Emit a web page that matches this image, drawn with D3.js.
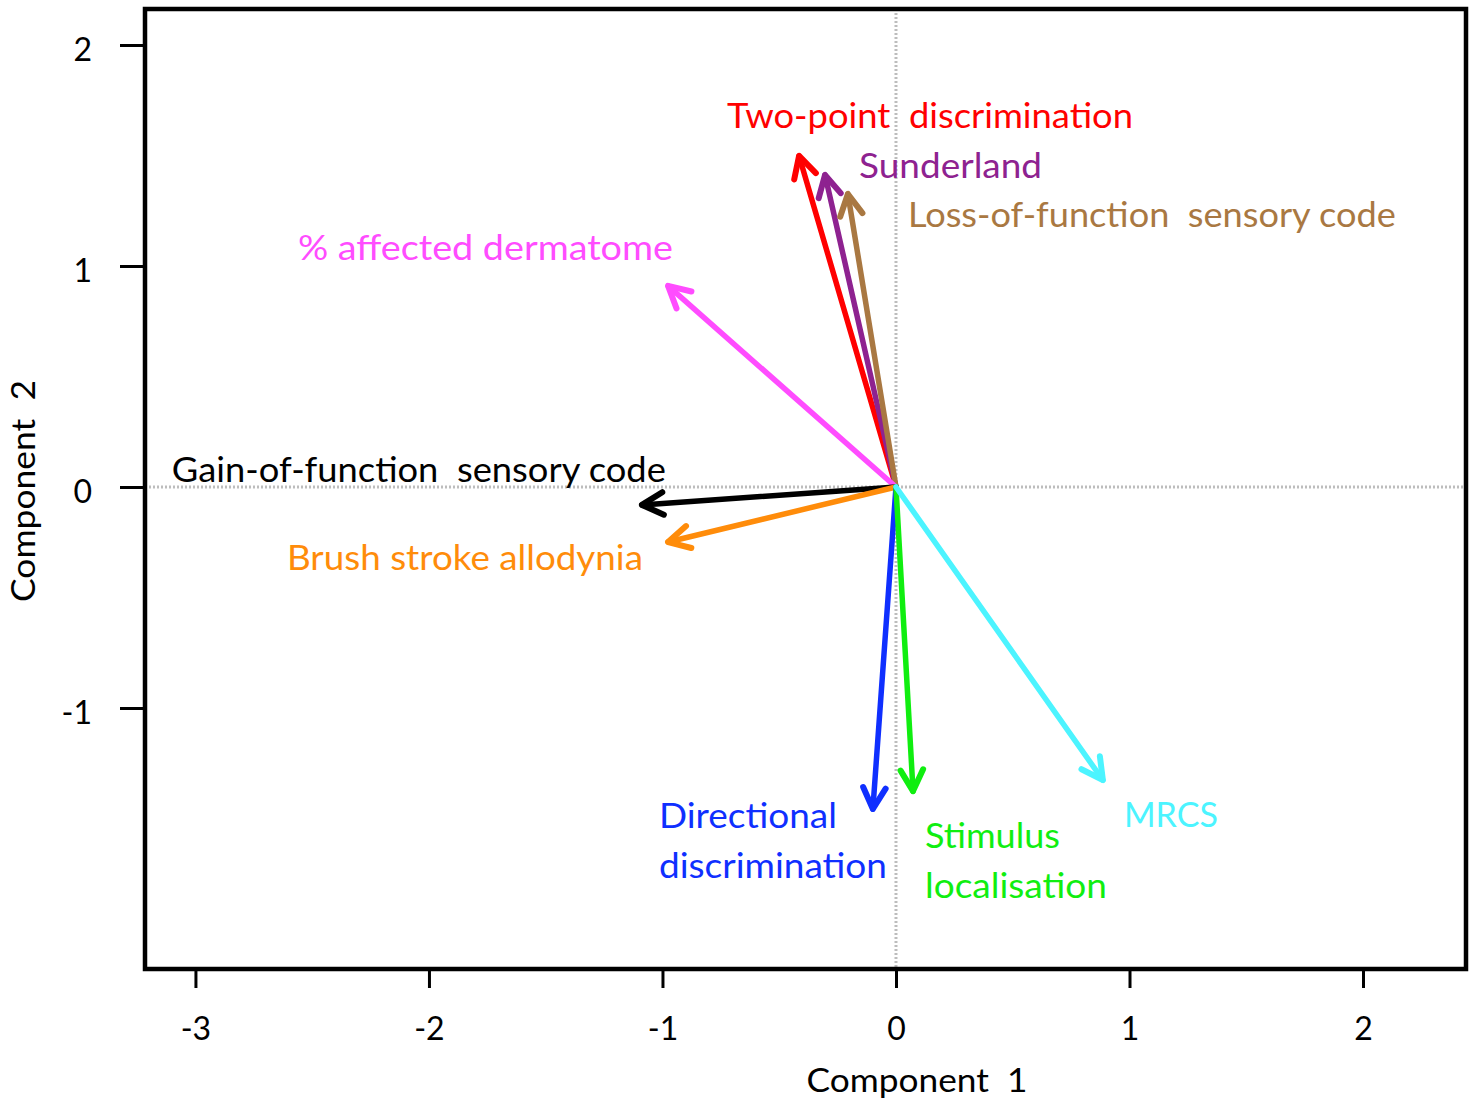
<!DOCTYPE html>
<html>
<head>
<meta charset="utf-8">
<script src="https://cdn.jsdelivr.net/npm/d3@7"></script>
<style>
  html, body { margin: 0; padding: 0; background: #fff; }
  svg { display: block; }
  text { font-family: Lato, "Open Sans", sans-serif; white-space: pre; }
</style>
</head>
<body>
<script>
// ---- data ----
const variables = [
  "Two-point  discrimination", "Sunderland", "Loss-of-function  sensory code",
  "% affected dermatome", "Gain-of-function  sensory code", "Brush stroke allodynia",
  "Directional discrimination", "Stimulus localisation", "MRCS"
];
const comp1 = [-0.415, -0.304, -0.206, -0.976, -1.088, -0.976, -0.099, 0.073, 0.886];
const comp2 = [ 1.498,  1.412,  1.326,  0.910, -0.081, -0.249, -1.457, -1.376, -1.326];
const xTicks = [-3, -2, -1, 0, 1, 2];
const yTicks = [-1, 0, 1, 2];

// ---- styling / layout (not data) ----
const colors = ["#FF0000", "#8E2290", "#A97842", "#FF4CFF", "#000000", "#FF8C0A", "#0F2FFF", "#10EE10", "#4CF4FF"];
const labelLayout = [
  { lines: ["Two-point  discrimination"], x: -0.724, y: 1.624, w: [406] },
  { lines: ["Sunderland"], x: -0.158, y: 1.398, w: [183] },
  { lines: ["Loss-of-function  sensory code"], x: 0.051, y: 1.176, w: [488] },
  { lines: ["% affected dermatome"], x: -2.561, y: 1.027, w: [375] },
  { lines: ["Gain-of-function  sensory code"], x: -3.101, y: 0.023, w: [494] },
  { lines: ["Brush stroke allodynia"], x: -2.608, y: -0.376, w: [356] },
  { lines: ["Directional", "discrimination"], x: -1.015, y: -1.543, w: [178, 228] },
  { lines: ["Stimulus", "localisation"], x: 0.124, y: -1.633, w: [135, 182] },
  { lines: ["MRCS"], x: 0.976, y: -1.538, w: [94] }
];

const W = 1473, H = 1103;
const pL = 145, pR = 1466, pT = 9, pB = 969;

const x = d3.scaleLinear().domain([-3.216, 2.441]).range([pL, pR]);
const y = d3.scaleLinear().domain([-2.181, 2.163]).range([pB, pT]);

const svg = d3.select("body").append("svg").attr("width", W).attr("height", H);

// dotted zero lines
svg.append("line").attr("x1", pL).attr("x2", pR).attr("y1", y(0)).attr("y2", y(0))
  .attr("stroke", "#bdbdbd").attr("stroke-width", 3).attr("stroke-dasharray", "2,2");
svg.append("line").attr("x1", x(0)).attr("x2", x(0)).attr("y1", pT).attr("y2", pB)
  .attr("stroke", "#bdbdbd").attr("stroke-width", 3).attr("stroke-dasharray", "2,2");

// arrows
const headLen = 24, headAng = 28 * Math.PI / 180;
const arrows = svg.append("g");
variables.forEach((v, i) => {
  const x0 = x(0), y0 = y(0), x1 = x(comp1[i]), y1 = y(comp2[i]);
  const a = Math.atan2(y1 - y0, x1 - x0);
  const g = arrows.append("g").attr("stroke", colors[i]).attr("stroke-width", 5.5)
    .attr("stroke-linecap", "round").attr("fill", "none");
  g.append("line").attr("x1", x0).attr("y1", y0).attr("x2", x1).attr("y2", y1);
  const p1 = [x1 - headLen * Math.cos(a - headAng), y1 - headLen * Math.sin(a - headAng)];
  const p2 = [x1 - headLen * Math.cos(a + headAng), y1 - headLen * Math.sin(a + headAng)];
  g.append("path").attr("stroke-linejoin", "round").attr("stroke-width", 6)
    .attr("d", `M${p1[0]},${p1[1]}L${x1},${y1}L${p2[0]},${p2[1]}`);
});

// labels
labelLayout.forEach((l, i) => {
  l.lines.forEach((t, j) => {
    svg.append("text")
      .attr("x", x(l.x)).attr("y", y(l.y) + j * 50)
      .attr("fill", colors[i]).attr("font-size", 35)
      .attr("textLength", l.w[j]).attr("lengthAdjust", "spacingAndGlyphs")
      .text(t);
  });
});

// frame
svg.append("rect").attr("x", pL).attr("y", pT).attr("width", pR - pL).attr("height", pB - pT)
  .attr("fill", "none").attr("stroke", "#000").attr("stroke-width", 4.5);

// x axis
const xAxis = svg.append("g").attr("transform", `translate(0,${pB + 2})`)
  .call(d3.axisBottom(x).tickValues(xTicks).tickSize(17).tickFormat(d => String(d)));
xAxis.select(".domain").remove();
xAxis.selectAll(".tick line").attr("stroke", "#000").attr("stroke-width", 3);
xAxis.selectAll(".tick text").attr("y", 69).attr("dy", 0)
  .attr("font-size", 32).attr("fill", "#000").attr("font-family", "Lato, sans-serif");

// y axis
const yAxis = svg.append("g").attr("transform", `translate(${pL - 2},0)`)
  .call(d3.axisLeft(y).tickValues(yTicks).tickSize(23).tickFormat(d => String(d)));
yAxis.select(".domain").remove();
yAxis.selectAll(".tick line").attr("stroke", "#000").attr("stroke-width", 3);
yAxis.selectAll(".tick text").attr("x", -51).attr("dy", 15)
  .attr("font-size", 32).attr("fill", "#000").attr("font-family", "Lato, sans-serif");

// axis titles
svg.append("text").attr("x", 917).attr("y", 1092).attr("text-anchor", "middle")
  .attr("font-size", 32).attr("fill", "#000")
  .attr("textLength", 221).attr("lengthAdjust", "spacingAndGlyphs").text("Component  1");
svg.append("text").attr("transform", "translate(35,491) rotate(-90)").attr("text-anchor", "middle")
  .attr("font-size", 32).attr("fill", "#000")
  .attr("textLength", 222).attr("lengthAdjust", "spacingAndGlyphs").text("Component  2");
</script>
</body>
</html>
